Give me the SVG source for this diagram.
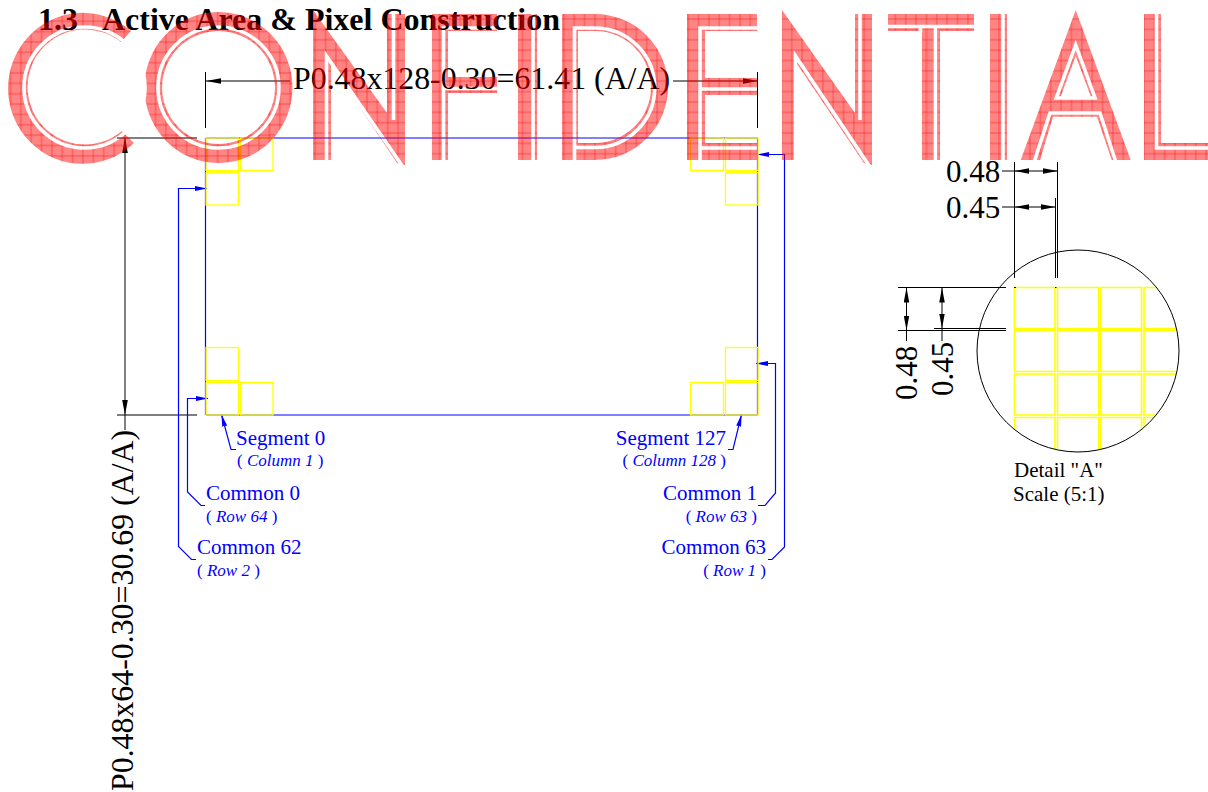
<svg xmlns="http://www.w3.org/2000/svg" width="1208" height="792" viewBox="0 0 1208 792">
<style>
.t{font-family:"Liberation Serif","Times New Roman",serif;fill:#000}
.h{font-size:32px;font-weight:bold}
.d{font-size:31.85px}
.e{font-size:31px}
.s{font-size:21px}
.b{font-size:21px;fill:#0000ff}
.i{font-size:17px;fill:#0000ff}
.i tspan{font-style:italic}
.k{fill:none;stroke:#000;stroke-width:1}
.l{fill:none;stroke:#0000ff;stroke-width:1.2}
.y{fill:none;stroke:#ffff00;stroke-width:1.3}
.z{fill:none;stroke:#ffff00;stroke-width:1.6}
</style>
<defs>
<marker id="ak" markerUnits="userSpaceOnUse" markerWidth="15" markerHeight="6" viewBox="0 0 15 6" refX="15" refY="3" orient="auto-start-reverse"><path d="M0,0.2L15,3L0,5.8Z" fill="#000"/></marker>
<marker id="ab" markerUnits="userSpaceOnUse" markerWidth="12" markerHeight="5" viewBox="0 0 12 5" refX="12" refY="2.5" orient="auto-start-reverse"><path d="M0,0L12,2.5L0,5Z" fill="#0000ff"/></marker>
<pattern id="wm" patternUnits="userSpaceOnUse" x="4.4" y="8.7" width="10.36" height="10.36">
<rect x="-1" y="-1" width="12" height="12" fill="#ff0000" fill-opacity="0.48"/>
<path d="M0,-1V12M10.36,-1V12M-1,0H12M-1,10.36H12" stroke="#ff0000" stroke-width="0.8" stroke-opacity="0.55" fill="none"/>
</pattern>
<pattern id="wl" patternUnits="userSpaceOnUse" x="0.1" y="0.5" width="10.36" height="10.36">
<rect x="-1" y="-1" width="12" height="12" fill="#ff0000" fill-opacity="0.48"/>
<path d="M0,-1V12M10.36,-1V12M-1,0H12M-1,10.36H12" stroke="#ff0000" stroke-width="0.8" stroke-opacity="0.55" fill="none"/>
</pattern>
<clipPath id="dc"><circle cx="1078" cy="351" r="101"/></clipPath>
<mask id="wmm" maskUnits="userSpaceOnUse" x="0" y="0" width="1208" height="792">
<rect width="1208" height="792" fill="#fff"/>
<g fill="none" stroke="#000" stroke-width="3.6">
<circle cx="84.5" cy="87.5" r="60.5"/>
<circle cx="218.5" cy="87.5" r="60.5"/>
<path d="M326.5,161V56L403,167M393.5,13V120"/>
<path d="M443.5,161V28H498M443.5,88.5H498"/>
<path d="M533,13V161"/>
<path d="M574.5,161V28H595A59.7,59.7 0 0 1 595,147.5H574"/>
<path d="M700,161V28H758M700,89H758M700,148H758"/>
<path d="M795.5,161V56L870,167M860,13V120"/>
<path d="M887,26.5H975M920.5,26V32M935.5,26V161"/>
<path d="M1003,13V161"/>
<path d="M1075.7,45L1095,98H1056.3Z"/>
<path d="M1034.5,161L1050,113H1100L1115.5,161"/>
<path d="M1156.5,13V148H1209"/>
</g>
</mask>
</defs>

<g id="title">
<text class="t h" x="38" y="30">1.3</text>
<text class="t h" x="102" y="30">Active Area &amp; Pixel Construction</text>
</g>

<g id="connectors">
<g id="dim-width">
<path class="k" d="M205.5,72V128M757.5,72V128"/>
<path class="k" d="M290,81H206" marker-end="url(#ak)"/>
<path class="k" d="M673,81H758" marker-end="url(#ak)"/>
</g>
<g id="dim-height">
<path class="k" d="M117,138H197M117,415H197"/>
<path class="k" d="M125,138V415" marker-start="url(#ak)" marker-end="url(#ak)"/>
<path class="k" d="M125,415V430"/>
</g>
<g id="leaders">
<path class="l" d="M236,449.5H231L221.5,414.5" marker-end="url(#ab)"/>
<path class="l" d="M205,505.5H201L187.5,492V398.5H208" marker-end="url(#ab)"/>
<path class="l" d="M196,559.5H191.5L178.5,546.5V188.5H207" marker-end="url(#ab)"/>
<path class="l" d="M728,449.5H733L741.5,414.5" marker-end="url(#ab)"/>
<path class="l" d="M758,505.5H765L775.5,493V363.5H756" marker-end="url(#ab)"/>
<path class="l" d="M768,559.5H772L784.5,547V154.5H757" marker-end="url(#ab)"/>
</g>
<g id="detail-dims">
<path class="k" d="M1014.5,162V278M1057.5,162V278M1055.5,198V278"/>
<path class="k" d="M1002,171H1014"/>
<path class="k" d="M1014,171H1058" marker-start="url(#ak)" marker-end="url(#ak)"/>
<path class="k" d="M1002,207H1014"/>
<path class="k" d="M1014,207H1055.5" marker-start="url(#ak)" marker-end="url(#ak)"/>
<path class="k" d="M898,287.5H1006M898,330.5H1006M934,328.5H1006"/>
<path class="k" d="M906.5,287.5V330.5" marker-start="url(#ak)" marker-end="url(#ak)"/>
<path class="k" d="M906.5,330.5V341"/>
<path class="k" d="M942,287.5V328.5" marker-start="url(#ak)" marker-end="url(#ak)"/>
<path class="k" d="M942,328.5V341"/>
</g>
</g>

<g id="active-area">
<path d="M206,138H758M206,415H758" fill="none" stroke="#0000ff" stroke-width="1"/>
<path d="M205.5,138V415M757.5,138V415" fill="none" stroke="#0000ff" stroke-width="1.2"/>
</g>

<g id="pixels-top-left">
<rect class="y" x="206" y="138" width="32.5" height="32.5"/>
<rect class="y" x="240.5" y="138" width="32.5" height="32.5"/>
<rect class="y" x="206" y="172.5" width="32.5" height="32.5"/>
</g>
<g id="pixels-top-right">
<rect class="y" x="690.5" y="138" width="33" height="32.5"/>
<rect class="y" x="725.5" y="138" width="32.5" height="32.5"/>
<rect class="y" x="725.5" y="172.5" width="32.5" height="32.5"/>
</g>
<g id="pixels-bottom-left">
<rect class="y" x="206" y="347.5" width="32.5" height="33"/>
<rect class="y" x="206" y="382.5" width="32.5" height="32.5"/>
<rect class="y" x="240.5" y="382.5" width="32.5" height="32.5"/>
</g>
<g id="pixels-bottom-right">
<rect class="y" x="725.5" y="347.5" width="32.5" height="33"/>
<rect class="y" x="690.5" y="382.5" width="33" height="32.5"/>
<rect class="y" x="725.5" y="382.5" width="32.5" height="32.5"/>
</g>

<g id="dim-labels">
<text class="t d" x="293" y="88.5">P0.48x128-0.30=61.41 (A/A)</text>
<text class="t d" transform="translate(133,791) rotate(-90)">P0.48x64-0.30=30.69 (A/A)</text>
<text class="t e" x="946" y="182">0.48</text>
<text class="t e" x="946" y="218">0.45</text>
<text class="t e" transform="translate(917,400) rotate(-90)">0.48</text>
<text class="t e" transform="translate(953,396) rotate(-90)">0.45</text>
</g>

<g id="label-segment-0"><text class="t b" x="236" y="445">Segment 0</text><text class="t i" x="237" y="466">( <tspan>Column 1</tspan> )</text></g>
<g id="label-common-0"><text class="t b" x="206" y="500">Common 0</text><text class="t i" x="206" y="522">( <tspan>Row 64</tspan> )</text></g>
<g id="label-common-62"><text class="t b" x="197" y="554">Common 62</text><text class="t i" x="197" y="576">( <tspan>Row 2</tspan> )</text></g>
<g id="label-segment-127"><text class="t b" x="726" y="445" text-anchor="end">Segment 127</text><text class="t i" x="726" y="466" text-anchor="end">( <tspan>Column 128</tspan> )</text></g>
<g id="label-common-1"><text class="t b" x="757" y="500" text-anchor="end">Common 1</text><text class="t i" x="757" y="522" text-anchor="end">( <tspan>Row 63</tspan> )</text></g>
<g id="label-common-63"><text class="t b" x="766" y="554" text-anchor="end">Common 63</text><text class="t i" x="766" y="576" text-anchor="end">( <tspan>Row 1</tspan> )</text></g>

<g id="detail-a">
<g clip-path="url(#dc)">
<path class="z" d="M1014.5,287.5h40.5v41h-40.5zM1057.5,287.5h41v41h-41zM1100.5,287.5h41v41h-41zM1144,287.5h41v41h-41zM1014.5,330.5h40.5v41h-40.5zM1057.5,330.5h41v41h-41zM1100.5,330.5h41v41h-41zM1144,330.5h41v41h-41zM1014.5,374h40.5v41h-40.5zM1057.5,374h41v41h-41zM1100.5,374h41v41h-41zM1144,374h41v41h-41zM1014.5,417.5h40.5v41h-40.5zM1057.5,417.5h41v41h-41zM1100.5,417.5h41v41h-41zM1144,417.5h41v41h-41z"/>
</g>
<path class="k" d="M1014,287.5H1016M1055,287.5H1056.5"/>
<circle class="k" cx="1078" cy="351" r="101"/>
<text class="t s" x="1014" y="477">Detail "A"</text>
<text class="t s" x="1013" y="501">Scale (5:1)</text>
</g>

<g id="watermark" mask="url(#wmm)" fill="url(#wm)">
<path fill="url(#wl)" d="M131,31A74.5,75.5 0 1 0 134,143L122,131A57.5,57.5 0 1 1 121,42Z"/>
<path fill="url(#wl)" fill-rule="evenodd" d="M218.5,12A74,75.5 0 1 1 218.4,12ZM218.5,31A56.5,56.5 0 1 0 218.6,31Z"/>
<path d="M313,10L387,113V14H405V165L397,163L331,64V160H313Z"/>
<path d="M432,14H497V31H448V77H497V93H448V160H432Z"/>
<path d="M518,14H537V160H518Z"/>
<path fill-rule="evenodd" d="M562,14H595A73,73 0 0 1 595,160H562ZM578,31V143H595A56,56 0 0 0 595,31Z"/>
<path d="M687,14H757V31H705V78H757V95H705V143H757V160H687Z"/>
<path d="M782,10L855,113V14H872V165L864,163L797,64V160H782Z"/>
<path d="M888,14H974V31H940V160H922V31H888Z"/>
<path d="M990,14H1007V160H990Z"/>
<path fill-rule="evenodd" d="M1075.7,10L1130.7,160H1111.7L1097,116.7H1053L1040,160H1020.7ZM1075.7,56L1060.5,97H1091Z"/>
<path d="M1144,14H1161V143H1208V160H1144Z"/>
</g>
</svg>
